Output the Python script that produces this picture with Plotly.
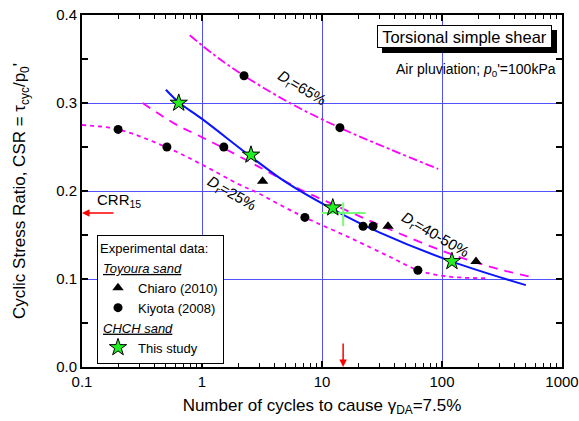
import math
import plotly.graph_objects as go

# ---- data ---------------------------------------------------------------
# Toyoura sand, Chiaro (2010)
chiaro_N = [3.2, 35.5, 192]
chiaro_csr = [0.211, 0.160, 0.120]

# Toyoura sand, Kiyota (2008)
kiyota_N = [0.2, 0.51, 1.52, 2.24, 14.1, 7.2, 22, 26.6, 63]
kiyota_csr = [0.270, 0.250, 0.250, 0.331, 0.272, 0.170, 0.160, 0.160, 0.110]

# CHCH sand, this study
study_N = [0.64, 2.56, 12.3, 121]
study_csr = [0.300, 0.241, 0.181, 0.120]

# fitted curve through this study's results
fit_N = [0.5, 0.65, 1, 2.5, 5, 12, 30, 120, 500]
fit_csr = [0.315, 0.300, 0.282, 0.240, 0.210, 0.180, 0.153, 0.120, 0.093]

# trend lines for Toyoura sand at several relative densities
dr4050_N = [0.32, 0.6, 1.0, 1.5, 2.5, 4, 7, 11, 20, 42, 110, 250, 570]
dr4050_csr = [0.300, 0.276, 0.261, 0.249, 0.233, 0.218, 0.200, 0.188, 0.172,
              0.153, 0.130, 0.114, 0.102]

dr25_N = [0.1, 0.2, 0.5, 1, 2, 3, 4.5, 7.2, 17, 37, 63, 96, 150, 237]
dr25_csr = [0.275, 0.270, 0.250, 0.230, 0.208, 0.197, 0.184, 0.170, 0.147,
            0.125, 0.110, 0.104, 0.1015, 0.101]

dr65_N = [0.79, 1.28, 2.24, 5.4, 14, 36, 93]
dr65_csr = [0.377, 0.354, 0.331, 0.300, 0.272, 0.248, 0.225]

# CRR at 15 cycles with its scatter band
crr_N = [15]
crr_val = [0.175]
crr_N_plus, crr_N_minus = [8], [5]
crr_val_plus, crr_val_minus = [0.012], [0.015]

x_ticks = [0.1, 1, 10, 100, 1000]
x_ticktext = ["0.1", "1", "10", "100", "1000"]
y_ticks = [0.0, 0.1, 0.2, 0.3, 0.4]

# ---- styling ------------------------------------------------------------
FONT = "Liberation Sans, Arial, sans-serif"
MAGENTA = "#ff00ff"
BLUE = "#0a14ff"
GRID = "rgb(80,80,255)"
W, H = 579, 421
L, R, T, B = 82, 17, 15, 54
PW, PH = W - L - R, H - T - B


def px(x):
    return (x - L) / PW


def py(y):
    return (H - B - y) / PH


fig = go.Figure()

fig.add_trace(go.Scatter(x=dr65_N, y=dr65_csr, mode="lines", showlegend=False,
                         line=dict(color=MAGENTA, width=1.8, dash="dashdot", shape="spline"),
                         hoverinfo="skip"))
fig.add_trace(go.Scatter(x=dr25_N, y=dr25_csr, mode="lines", showlegend=False,
                         line=dict(color=MAGENTA, width=1.8, dash="4px,4px", shape="spline"),
                         hoverinfo="skip"))
fig.add_trace(go.Scatter(x=dr4050_N, y=dr4050_csr, mode="lines", showlegend=False,
                         line=dict(color=MAGENTA, width=1.8, dash="9px,7px", shape="spline"),
                         hoverinfo="skip"))
fig.add_trace(go.Scatter(x=fit_N, y=fit_csr, mode="lines", showlegend=False,
                         line=dict(color=BLUE, width=2, shape="spline"),
                         hoverinfo="skip"))

fig.add_trace(go.Scatter(
    x=crr_N, y=crr_val, mode="markers", showlegend=False,
    marker=dict(size=1, color="rgba(0,0,0,0)"),
    error_x=dict(type="data", symmetric=False, array=crr_N_plus, arrayminus=crr_N_minus,
                 color="#77ff77", thickness=2, width=0),
    error_y=dict(type="data", symmetric=False, array=crr_val_plus, arrayminus=crr_val_minus,
                 color="#77ff77", thickness=2, width=0),
))

fig.add_trace(go.Scatter(x=chiaro_N, y=chiaro_csr, mode="markers", name="Chiaro (2010)",
                         legendgroup="toyoura",
                         legendgrouptitle=dict(text="<i><u>Toyoura sand</u></i>",
                                               font=dict(size=13, color="black", family=FONT)),
                         marker=dict(symbol="triangle-up", size=10, color="black")))
fig.add_trace(go.Scatter(x=kiyota_N, y=kiyota_csr, mode="markers", name="Kiyota (2008)",
                         legendgroup="toyoura",
                         marker=dict(symbol="circle", size=9, color="black")))
fig.add_trace(go.Scatter(x=study_N, y=study_csr, mode="markers", name="This study",
                         legendgroup="chch",
                         legendgrouptitle=dict(text="<i><u>CHCH sand</u></i>",
                                               font=dict(size=13, color="black", family=FONT)),
                         marker=dict(symbol="star", size=13, color="#22ee22",
                                     line=dict(color="black", width=1))))

annotations = [
    # rotated relative-density labels
    dict(x=math.log10(6.8), y=0.316, text="<i>D</i><sub>r</sub>=65%", textangle=31,
         showarrow=False, font=dict(size=15)),
    dict(x=math.log10(1.75), y=0.197, text="<i>D</i><sub>r</sub>=25%", textangle=30,
         showarrow=False, font=dict(size=15)),
    dict(x=math.log10(89), y=0.150, text="<i>D</i><sub>r</sub>=40-50%", textangle=30,
         showarrow=False, font=dict(size=15)),
    # CRR15 arrows
    dict(x=math.log10(0.1), y=crr_val[0], ax=33, ay=0, text="", showarrow=True,
         arrowhead=2, arrowsize=1, arrowwidth=1.5, arrowcolor="red"),
    dict(x=math.log10(crr_N[0]), y=0, ax=0, ay=-25, text="", showarrow=True,
         arrowhead=2, arrowsize=1, arrowwidth=1.5, arrowcolor="red"),
    dict(xref="paper", yref="paper", x=px(95), y=py(201), xanchor="left", yanchor="middle",
         text="CRR<sub>15</sub>", showarrow=False, font=dict(size=15)),
    # test description: boxed title (shadow drawn as a shape underneath)
    dict(xref="paper", yref="paper", x=px(464.5), y=py(36.5), xanchor="center",
         yanchor="middle", text="Torsional simple shear", showarrow=False,
         font=dict(size=16.5), width=171, height=19, bgcolor="white",
         bordercolor="black", borderwidth=1, borderpad=1),
    dict(xref="paper", yref="paper", x=px(558), y=py(70), xanchor="right",
         yanchor="middle", text="Air pluviation; <i>p</i><sub>0</sub>'=100kPa",
         showarrow=False, font=dict(size=14)),
]

shapes = [
    dict(type="rect", xref="x domain", yref="y domain", x0=px(382), x1=px(557),
         y0=py(53), y1=py(30), fillcolor="black", line=dict(width=0), layer="above"),
]

axis_common = dict(
    showline=True, linecolor="black", linewidth=2, mirror="ticks",
    ticks="inside", ticklen=6, tickwidth=1.5, tickcolor="black",
    showgrid=True, gridcolor=GRID, gridwidth=1, zeroline=False, automargin=False,
    tickfont=dict(size=15, color="black", family=FONT),
)

fig.update_layout(
    width=W, height=H,
    margin=dict(l=L, r=R, t=T, b=B),
    paper_bgcolor="white", plot_bgcolor="white",
    font=dict(family=FONT, color="black", size=15),
    xaxis=dict(type="log", range=[-1, 3], tickvals=x_ticks, ticktext=x_ticktext,
               minor=dict(ticks="inside", ticklen=4, tickwidth=1, tickcolor="black",
                          dtick="D1", showgrid=False),
               title=dict(text="Number of cycles to cause γ<sub>DA</sub>=7.5%",
                          font=dict(size=17), standoff=10),
               **axis_common),
    yaxis=dict(range=[0, 0.4], tickvals=y_ticks, tickformat=".1f",
               minor=dict(ticks="inside", ticklen=6, tickwidth=1.5, tickcolor="black",
                          dtick=0.05, showgrid=False),
               title=dict(text="Cyclic Stress Ratio, CSR = τ<sub>cyc</sub>/p<sub>0</sub>'",
                          font=dict(size=17), standoff=26),
               **axis_common),
    legend=dict(x=px(97), y=py(235), xanchor="left", yanchor="top",
                bgcolor="white", bordercolor="black", borderwidth=1,
                font=dict(size=13, color="black", family=FONT),
                title=dict(text="Experimental data:", font=dict(size=13)),
                tracegroupgap=0, itemwidth=30),
    annotations=annotations,
    shapes=shapes,
    showlegend=True,
)

fig.write_html("out.html")
